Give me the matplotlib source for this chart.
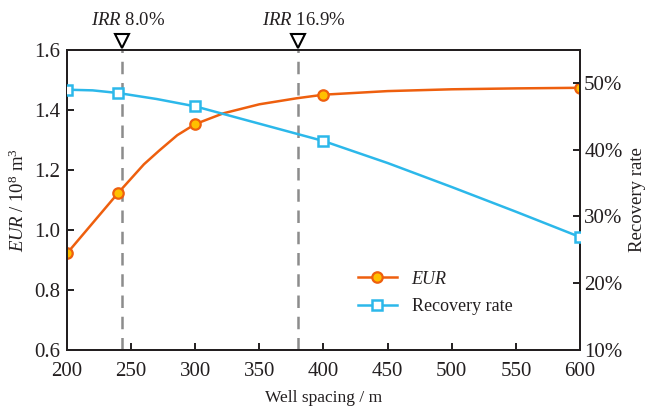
import matplotlib
matplotlib.use("Agg")
import matplotlib.pyplot as plt
from matplotlib.transforms import offset_copy

plt.rcParams['font.family'] = ['Liberation Serif', 'DejaVu Serif']
plt.rcParams['mathtext.fontset'] = 'custom'
plt.rcParams['mathtext.rm'] = 'Liberation Serif'
plt.rcParams['mathtext.it'] = 'Liberation Serif:italic'

# marked points
spacing = [200, 240, 300, 400, 600]
eur = [0.921, 1.123, 1.352, 1.450, 1.473]
recovery = [0.490, 0.485, 0.465, 0.413, 0.269]

# smooth curves
curve_x = [200, 220, 240, 260, 272, 286, 300, 322, 350, 379, 400, 450, 500, 550, 600]
eur_curve = [0.921, 1.022, 1.123, 1.218, 1.264, 1.315, 1.352, 1.388, 1.418, 1.438,
             1.450, 1.462, 1.468, 1.471, 1.473]
rec_curve_x = [200, 220, 240, 270, 300, 350, 400, 450, 500, 550, 600]
rec_curve = [0.490, 0.489, 0.485, 0.476, 0.465, 0.439, 0.413, 0.380, 0.344, 0.307, 0.269]

irr_x = [243, 380]
irr_labels = ['8.0%', '16.9%']

x_ticks = [200, 250, 300, 350, 400, 450, 500, 550, 600]
eur_ticks = [0.6, 0.8, 1.0, 1.2, 1.4, 1.6]
rec_ticks = [0.1, 0.2, 0.3, 0.4, 0.5]

orange = '#EE5F0E'
yellow = '#FFC000'
cyan = '#2CB8EA'
dark = '#231F20'

fig = plt.figure(figsize=(6.49, 4.09), dpi=100)
ax = fig.add_axes([0.1032, 0.145, 0.7905, 0.7335])
ax2 = ax.twinx()

# IRR dashed lines
for xv in irr_x:
    ax.axvline(xv, color='#8C8C8C', lw=1.8, dashes=(5, 3.5), zorder=1)

ax.plot(curve_x, eur_curve, color=orange, lw=1.8, zorder=3)
ax.plot(spacing, eur, ls='none', marker='o', ms=7.5, mfc=yellow, mec=orange,
        mew=1.6, zorder=4)
ax2.plot(rec_curve_x, rec_curve, color=cyan, lw=1.8, zorder=3)
ax2.plot(spacing, recovery, ls='none', marker='s', ms=7, mfc='white', mec=cyan,
         mew=1.8, zorder=4)

ax.set_xlim(200, 600)
ax.set_ylim(0.6, 1.6)
ax2.set_ylim(0.1, 0.55)
ax.set_xticks(x_ticks)
ax.set_yticks(eur_ticks)
ax.set_yticklabels(['%.1f' % v for v in eur_ticks])
ax2.set_yticks(rec_ticks)
ax2.set_yticklabels(['%d%%' % round(v * 100) for v in rec_ticks])

for a in (ax, ax2):
    for s in a.spines.values():
        s.set_linewidth(1.4)
        s.set_color(dark)
    a.tick_params(direction='in', length=5, width=1.4, colors=dark,
                  labelsize=15, labelcolor=dark)
ax.tick_params(axis='x', pad=9)
ax.tick_params(axis='y', pad=5)
ax2.tick_params(axis='y', pad=3)

ax.set_xlabel('Well spacing / m', fontsize=12.5, color=dark, labelpad=6)
ax.set_ylabel(r'$\mathit{EUR}$ / 10$^8$ m$^3$', fontsize=13.5, color=dark, labelpad=4)
ax2.set_ylabel('Recovery rate', fontsize=13.5, color=dark, labelpad=5)

# triangles and IRR labels above the top spine
tri_tr = offset_copy(ax.get_xaxis_transform(), fig=fig, y=6, units='points')
txt_tr = offset_copy(ax.get_xaxis_transform(), fig=fig, y=15, units='points')
for xv, lab in zip(irr_x, irr_labels):
    ax.plot([xv], [1.0], marker='v', ms=10, mfc='white', mec='black', mew=1.5,
            transform=tri_tr, clip_on=False, zorder=5)
    ax.text(xv + 5, 1.0, r'$\mathit{IRR}$ ' + lab, transform=txt_tr, ha='center',
            va='bottom', fontsize=13.5, color=dark)

# legend
h1, = ax.plot([], [], color=orange, lw=1.8, marker='o', ms=7.5, mfc=yellow,
              mec=orange, mew=1.6)
h2, = ax.plot([], [], color=cyan, lw=1.8, marker='s', ms=7, mfc='white',
              mec=cyan, mew=1.8)
leg = ax.legend([h1, h2], ['EUR', 'Recovery rate'], loc='lower right',
                bbox_to_anchor=(0.9, 0.06), frameon=False, fontsize=13,
                handlelength=2.2, labelspacing=0.6)
leg.get_texts()[0].set_fontstyle('italic')
for t in leg.get_texts():
    t.set_color(dark)

fig.savefig('out.png', dpi=100)
